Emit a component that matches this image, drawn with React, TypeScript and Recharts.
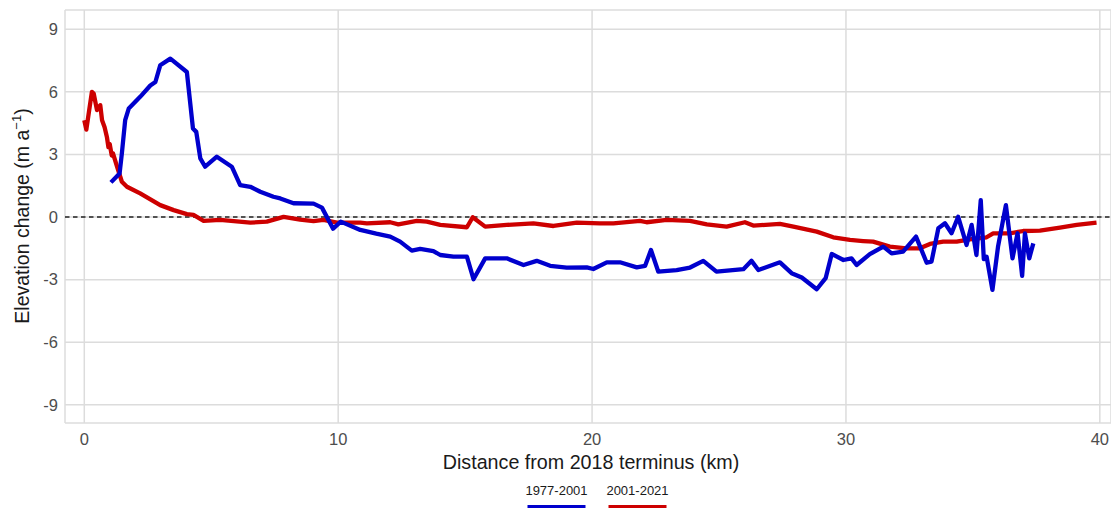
import React from 'react'
import {
  LineChart,
  Line,
  XAxis,
  YAxis,
  CartesianGrid,
  ReferenceLine,
} from 'recharts'

// along-flow distance (km) and elevation change rate (m a-1), 1977-2001
const distance1977 = [
  1.05, 1.39, 1.48, 1.61, 1.75, 2.2, 2.6, 2.8, 2.99, 3.39, 4.04, 4.28, 4.41,
  4.57, 4.76, 5.22, 5.81, 6.14, 6.54, 6.93, 7.45, 7.72, 8.24, 9.03, 9.36, 9.8,
  10.1, 10.87, 11.5, 12.05, 12.44, 12.9, 13.23, 13.75, 14.02, 14.54, 15.07,
  15.33, 15.79, 16.64, 17.3, 17.82, 18.35, 19.0, 19.79, 20.05, 20.58, 21.1,
  21.76, 22.09, 22.32, 22.61, 23.33, 23.86, 24.38, 24.9, 25.96, 26.28, 26.55,
  27.4, 27.86, 28.26, 28.85, 29.2, 29.44, 29.9, 30.22, 30.42, 30.94, 31.47,
  31.8, 32.25, 32.76, 33.18, 33.37, 33.64, 33.9, 34.16, 34.42, 34.75, 34.95,
  35.14, 35.31, 35.43, 35.54, 35.77, 35.99, 36.3, 36.56, 36.76, 36.94, 37.05,
  37.22, 37.38,
]
const change1977 = [
  1.66, 2.09, 3.05, 4.64, 5.2, 5.76, 6.3, 6.47, 7.27, 7.59, 6.95, 4.24, 4.08,
  2.81, 2.41, 2.89, 2.41, 1.53, 1.45, 1.21, 0.97, 0.89, 0.66, 0.64, 0.45,
  -0.56, -0.22, -0.62, -0.8, -0.94, -1.18, -1.61, -1.53, -1.63, -1.82, -1.9,
  -1.9, -2.98, -1.98, -1.98, -2.3, -2.1, -2.34, -2.42, -2.41, -2.49, -2.17,
  -2.17, -2.41, -2.34, -1.58, -2.62, -2.54, -2.42, -2.1, -2.62, -2.5, -2.1,
  -2.54, -2.17, -2.69, -2.9, -3.46, -2.93, -1.77, -2.06, -1.98, -2.3, -1.78,
  -1.42, -1.74, -1.66, -0.94, -2.19, -2.14, -0.54, -0.3, -0.78, 0.01, -1.34,
  -0.38, -1.82, 0.81, -2.02, -1.9, -3.49, -1.42, 0.57, -1.98, -0.78, -2.82,
  -0.78, -1.98, -1.26,
]

// same profile, 2001-2021
const distance2001 = [
  0.0, 0.08, 0.3, 0.37, 0.5, 0.63, 0.7, 0.8, 0.89, 0.95, 1.0, 1.08, 1.13,
  1.29, 1.48, 1.68, 2.2, 2.99, 3.52, 4.04, 4.3, 4.7, 5.35, 6.54, 7.19, 7.85,
  8.5, 9.03, 9.42, 9.95, 10.87, 11.13, 12.05, 12.37, 13.1, 13.49, 14.02,
  15.07, 15.3, 15.79, 16.64, 17.69, 18.48, 19.4, 20.31, 20.84, 21.89, 22.15,
  22.94, 23.86, 24.52, 25.3, 26.02, 26.35, 27.4, 27.93, 28.85, 29.5, 30.16,
  30.68, 31.07, 31.73, 32.38, 32.91, 33.31, 33.83, 34.36, 34.88, 35.54, 35.8,
  36.46, 36.98, 37.64, 38.43, 39.09, 39.87,
]
const change2001 = [
  4.64, 4.19, 6.0, 5.92, 5.12, 5.36, 4.64, 4.3, 3.84, 3.35, 3.5, 2.95, 3.05,
  2.41, 1.69, 1.45, 1.13, 0.57, 0.33, 0.14, 0.1, -0.18, -0.14, -0.27, -0.22,
  0.01, -0.12, -0.2, -0.14, -0.27, -0.27, -0.3, -0.25, -0.35, -0.18, -0.22,
  -0.38, -0.49, -0.01, -0.46, -0.38, -0.3, -0.43, -0.27, -0.3, -0.3, -0.18,
  -0.25, -0.14, -0.18, -0.35, -0.46, -0.25, -0.41, -0.33, -0.46, -0.7, -0.97,
  -1.1, -1.15, -1.18, -1.42, -1.5, -1.5, -1.29, -1.18, -1.18, -1.07, -0.97,
  -0.78, -0.78, -0.67, -0.65, -0.51, -0.38, -0.27,
]

const xTicks = [0, 10, 20, 30, 40]
const yTicks = [-9, -6, -3, 0, 3, 6, 9]

const series = [
  { name: '1977-2001', color: '#0000CD', x: distance1977, y: change1977 },
  { name: '2001-2021', color: '#CD0000', x: distance2001, y: change2001 },
]

const toRows = (xs: number[], ys: number[]) =>
  xs.map((d, i) => ({ distance: d, change: ys[i] }))

const FONT = '"Liberation Sans", Arial, sans-serif'
const W = 1111
const H = 508

function YTitle() {
  return (
    <text
      transform="translate(29, 216) rotate(-90)"
      textAnchor="middle"
      fontFamily={FONT}
      fontSize={19.5}
      fill="#1a1a1a"
    >
      Elevation change (m a
      <tspan dy={-8} fontSize={13}>−1</tspan>
      <tspan dy={8}>)</tspan>
    </text>
  )
}

export default function App() {
  return (
    <div style={{ position: 'absolute', left: 0, top: 0, width: W, height: H, background: '#fff' }}>
      <LineChart
        width={W}
        height={H}
        margin={{ top: 10, right: 0, bottom: 35, left: 0 }}
      >
        <CartesianGrid stroke="#dcdcdc" strokeWidth={1.5} />
        <XAxis
          type="number"
          dataKey="distance"
          domain={[-0.76, 40.44]}
          ticks={xTicks}
          allowDataOverflow
          height={50}
          tickLine={false}
          axisLine={false}
          tickSize={0}
          tickMargin={10}
          tick={{ fill: '#4d4d4d', fontSize: 16.5, fontFamily: FONT }}
          label={(props: any) => {
            const vb = props.viewBox
            return (
              <text
                x={vb.x + vb.width / 2 + 3}
                y={469}
                textAnchor="middle"
                fontFamily={FONT}
                fontSize={19.7}
                fill="#1a1a1a"
              >
                Distance from 2018 terminus (km)
              </text>
            )
          }}
        />
        <YAxis
          type="number"
          domain={[-9.87, 9.92]}
          ticks={yTicks}
          allowDataOverflow
          width={65}
          tickLine={false}
          axisLine={false}
          tickSize={0}
          tickMargin={7}
          tick={{ fill: '#4d4d4d', fontSize: 16.5, fontFamily: FONT }}
        />
        <ReferenceLine y={0} stroke="#222" strokeWidth={1.4} strokeDasharray="4.5 3.5" />
        {/* later period underneath, earlier profile on top */}
        {[...series].reverse().map(s => (
          <Line
            key={s.name}
            data={toRows(s.x, s.y)}
            dataKey="change"
            name={s.name}
            type="linear"
            stroke={s.color}
            strokeWidth={4.3}
            strokeLinejoin="round"
            dot={false}
            activeDot={false}
            isAnimationActive={false}
          />
        ))}
      </LineChart>
      <svg width={W} height={H} style={{ position: 'absolute', left: 0, top: 0, pointerEvents: 'none' }}>
        <YTitle />
        {series.map((s, i) => {
          const cx = 556.5 + i * 81
          return (
            <g key={s.name}>
              <text
                x={cx}
                y={495}
                textAnchor="middle"
                fontFamily={FONT}
                fontSize={13}
                fill="#1a1a1a"
              >
                {s.name}
              </text>
              <rect x={cx - 29} y={505} width={58} height={6} fill={s.color} />
            </g>
          )
        })}
      </svg>
    </div>
  )
}
